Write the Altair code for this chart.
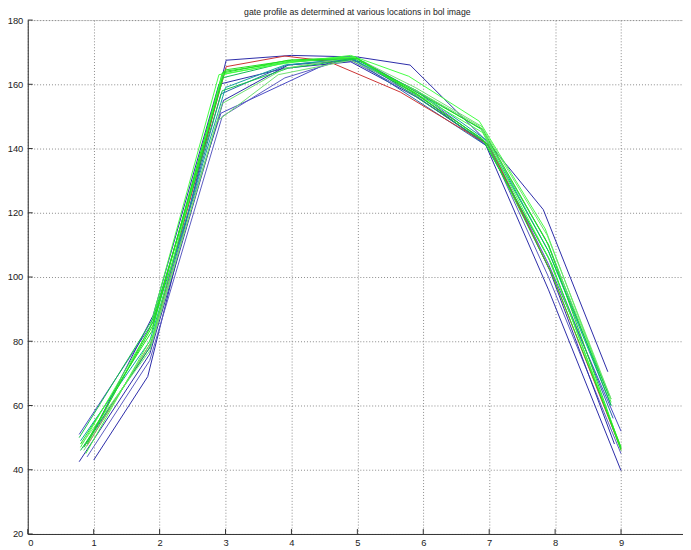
import altair as alt
import pandas as pd

title_text = "gate profile as determined at various locations in bol image"

x_ticks = [0, 1, 2, 3, 4, 5, 6, 7, 8, 9]
y_ticks = [20, 40, 60, 80, 100, 120, 140, 160, 180]

line_ids = ["L01", "L02", "L03", "L04", "L05", "L06", "L07", "L08", "L09",
            "L10", "L11", "L12", "L13", "L14", "L15", "L16", "L17"]
line_colors = ["#2a2aa8", "#4848c4", "#2a2aa8", "#5a5ac0", "#2a2aa8", "#2868a8",
               "#cc3333", "#10a0a0", "#10b850", "#70e070", "#20e020", "#44ff44",
               "#10c848", "#70e070", "#20e020", "#44ff44", "#20e020"]

line_x = [
    [1.0, 1.82, 3.01, 4.0, 5.0, 5.8, 7.0, 7.82, 8.8],
    [0.78, 1.9, 2.93, 4.65, 5.1, 5.95, 7.0, 7.9, 9.0],
    [0.78, 1.85, 2.97, 3.95, 4.95, 5.9, 6.95, 7.9, 9.0],
    [0.9, 1.85, 2.95, 3.9, 4.85, 5.85, 7.0, 7.9, 9.0],
    [1.0, 1.9, 2.9, 3.9, 4.9, 5.9, 7.0, 7.92, 8.9],
    [0.85, 1.88, 2.93, 3.93, 4.93, 5.9, 6.95, 7.9, 8.88],
    [0.9, 1.88, 3.01, 3.9, 4.55, 5.65, 7.0, 7.95, 9.0],
    [0.8, 1.85, 3.0, 3.9, 4.9, 5.9, 7.0, 7.9, 8.85],
    [0.8, 1.85, 2.95, 3.95, 4.95, 5.9, 6.88, 7.9, 8.85],
    [0.85, 1.88, 2.87, 3.8, 4.9, 5.9, 6.85, 7.85, 8.85],
    [0.8, 1.88, 2.95, 3.95, 4.95, 5.9, 6.9, 7.9, 9.0],
    [0.8, 1.85, 2.9, 3.9, 4.9, 5.78, 6.85, 7.85, 8.85],
    [0.78, 1.9, 2.95, 3.95, 5.0, 5.9, 7.0, 7.9, 8.82],
    [0.82, 1.85, 2.95, 3.9, 4.95, 5.88, 6.88, 7.88, 8.85],
    [0.85, 1.9, 2.97, 3.97, 4.97, 5.95, 6.9, 7.95, 9.0],
    [0.88, 1.9, 2.95, 3.95, 4.95, 5.9, 6.9, 7.9, 9.0],
    [0.9, 1.9, 3.0, 4.0, 5.0, 5.9, 6.95, 7.95, 9.0],
]
line_y = [
    [43, 69, 167.5, 169, 168.5, 166, 141.5, 121, 70.5],
    [51, 86, 151, 167.5, 167, 157, 141, 104, 52],
    [42.5, 76, 155, 166, 167.5, 157, 141, 96, 39.7],
    [44, 74, 150, 162, 168, 157, 140.5, 100, 45],
    [52, 88, 160, 165, 167, 156, 141, 102, 48],
    [47, 79, 157, 166, 168, 155, 141, 106, 56],
    [47.5, 80, 165.5, 168.8, 167.2, 157.6, 141, 101, 46.3],
    [49, 80, 159, 166, 168, 158, 142, 108, 60],
    [46, 78, 162, 167, 168, 158, 146, 110, 60],
    [46, 80, 148.5, 163, 167.5, 158, 147, 112, 62],
    [48, 83, 163.5, 167.5, 168.5, 157.5, 146, 110, 46.5],
    [47, 84, 163, 166.5, 169, 162.5, 148.5, 115, 61],
    [50, 87, 158, 165, 168, 156, 141, 108, 63],
    [48, 77, 154, 165, 168.5, 159, 147, 113, 62],
    [47, 85, 164, 167, 168.5, 156, 143, 104, 46],
    [45, 82, 163, 167, 168.5, 157, 145, 106, 47],
    [48, 86, 164.5, 167.5, 168, 157, 142, 101, 47],
]

rows = []
for lid, xs, ys in zip(line_ids, line_x, line_y):
    for i, (xv, yv) in enumerate(zip(xs, ys)):
        rows.append({"line": lid, "idx": i, "x": xv, "y": yv})
df = pd.DataFrame(rows)

W, H = 663, 520
xscale = alt.Scale(domain=[0, 9.94], nice=False, zero=False)
yscale = alt.Scale(domain=[20, 180], nice=False, zero=False)

font = "Liberation Sans"

lines = alt.Chart(df).mark_line(strokeWidth=1, clip=True).encode(
    x=alt.X("x:Q", scale=xscale,
            axis=alt.Axis(values=x_ticks, title=None, grid=True, gridDash=[1, 2],
                          gridColor="#8a8a8a", tickSize=0, labelPadding=4,
                          domainColor="#333333", labelColor="#222222",
                          labelFont=font, labelFontSize=9.5, format="d")),
    y=alt.Y("y:Q", scale=yscale,
            axis=alt.Axis(values=y_ticks, title=None, grid=True, gridDash=[1, 2],
                          gridColor="#8a8a8a", tickSize=0, labelPadding=5,
                          domainColor="#333333", labelColor="#222222",
                          labelFont=font, labelFontSize=9.5, format="d")),
    color=alt.Color("line:N", scale=alt.Scale(domain=line_ids, range=line_colors),
                    legend=None),
    order=alt.Order("idx:Q"),
)

ydf = pd.DataFrame({"v": y_ticks})
xdf = pd.DataFrame({"v": x_ticks})

yticks = alt.Chart(ydf).mark_rule(color="#333333", strokeWidth=1).encode(
    y=alt.Y("v:Q", scale=yscale), x=alt.value(0), x2=alt.value(5))
xticks = alt.Chart(xdf).mark_rule(color="#333333", strokeWidth=1).encode(
    x=alt.X("v:Q", scale=xscale), y=alt.value(H), y2=alt.value(H - 5))

title = alt.Chart(pd.DataFrame({"t": [title_text]})).mark_text(
    font=font, fontSize=8.8, color="#222222", baseline="middle", align="center"
).encode(x=alt.datum(5, scale=xscale), y=alt.value(-8), text="t:N")

chart = alt.layer(lines, yticks, xticks, title).properties(
    width=W, height=H,
    autosize=alt.AutoSizeParams(type="none"),
    padding={"left": 20, "top": 9, "right": 0, "bottom": 13},
).configure_view(stroke=None).configure(background="white")

chart.save("out.html", embed_options={"renderer": "svg", "actions": False})
